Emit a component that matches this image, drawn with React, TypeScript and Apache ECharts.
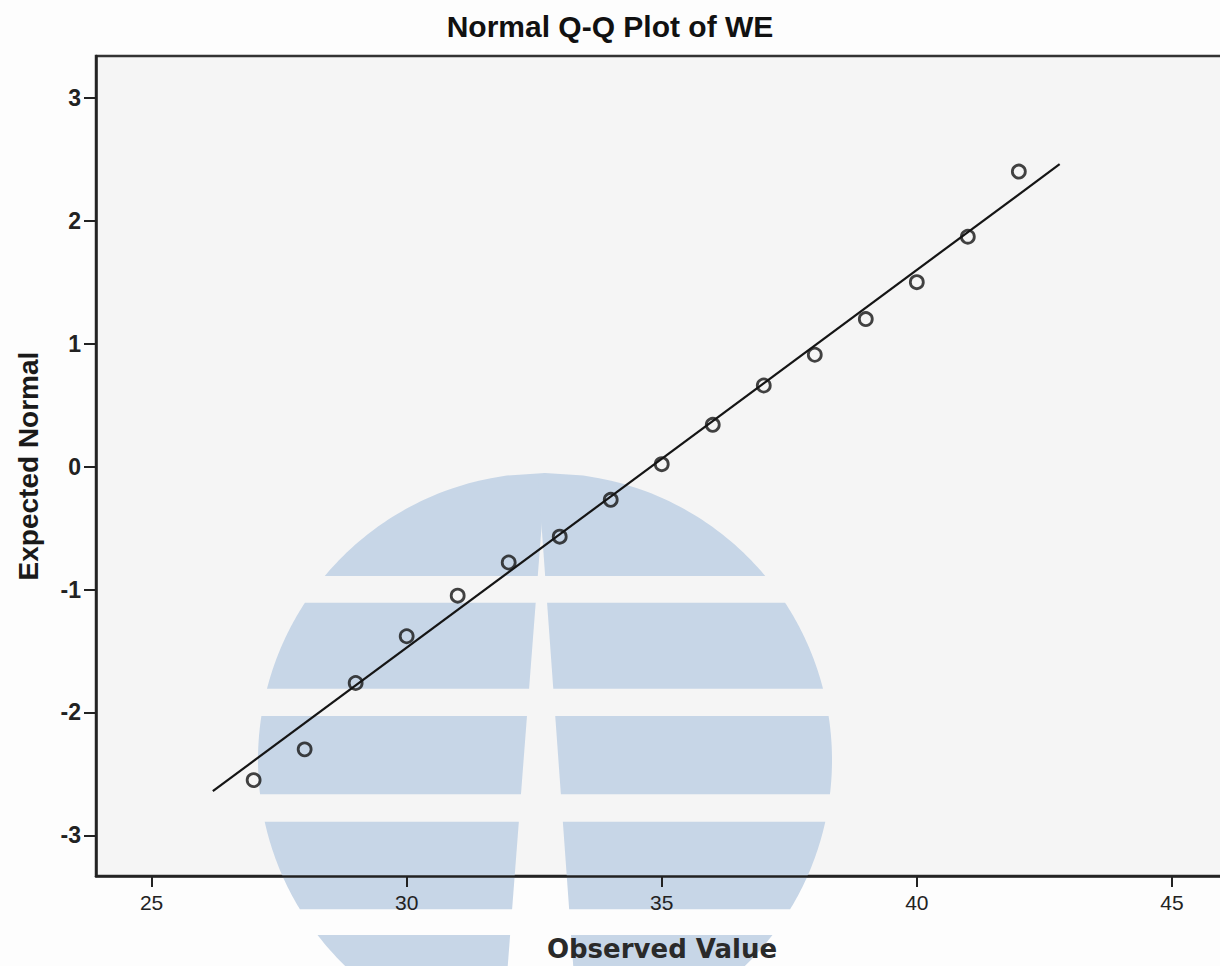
import React, { useEffect, useRef } from "react";
import * as echarts from "echarts";

// ---- data ----
const observedValues = [27, 28, 29, 30, 31, 32, 33, 34, 35, 36, 37, 38, 39, 40, 41, 42];
const expectedNormal = [-2.55, -2.3, -1.76, -1.38, -1.05, -0.78, -0.57, -0.27, 0.02, 0.34, 0.66, 0.91, 1.2, 1.5, 1.87, 2.4];
const refLineX = [26.2, 42.8];
const refLineY = [-2.64, 2.46];
const xTicks = [25, 30, 35, 40, 45];
const yTicks = [-3, -2, -1, 0, 1, 2, 3];

// ---- watermark geometry (styling) ----
const WM_CX = 545;
const WM_CY = 760;
const WM_R = 287;
const WM_BANDS = [
  [473, 576],
  [602.7, 688.7],
  [716, 794.3],
  [821.7, 909.3],
  [935, 1047],
];
const WM_COLOR = "#c7d6e7";

function hw(y: number) {
  const d = y - WM_CY;
  return Math.sqrt(Math.max(0, WM_R * WM_R - d * d));
}
function mL(y: number) {
  return 539 - 0.077 * (y - 560);
}
function mR(y: number) {
  return 544 + 0.072 * (y - 560);
}

function buildWatermark() {
  const els: any[] = [];
  const N = 40;
  for (const [y0, y1] of WM_BANDS) {
    const ys: number[] = [];
    for (let i = 0; i <= N; i++) ys.push(y0 + ((y1 - y0) * i) / N);
    const left: number[][] = [];
    ys.forEach((y) => left.push([WM_CX - hw(y), y]));
    [...ys].reverse().forEach((y) => {
      const xo = WM_CX - hw(y);
      const xi = Math.min(mL(y), WM_CX + hw(y));
      left.push([Math.max(xo, xi), y]);
    });
    const right: number[][] = [];
    ys.forEach((y) => right.push([WM_CX + hw(y), y]));
    [...ys].reverse().forEach((y) => {
      const xo = WM_CX + hw(y);
      const xi = Math.max(mR(y), WM_CX - hw(y));
      right.push([Math.min(xo, xi), y]);
    });
    els.push({ type: "polygon", z: 1, silent: true, shape: { points: left }, style: { fill: WM_COLOR } });
    els.push({ type: "polygon", z: 1, silent: true, shape: { points: right }, style: { fill: WM_COLOR } });
  }
  return els;
}

export default function App() {
  const ref = useRef<HTMLDivElement>(null);

  useEffect(() => {
    if (!ref.current) return;
    const chart = echarts.init(ref.current, null, { renderer: "svg" });
    const option: any = {
      animation: false,
      backgroundColor: "#fdfdfd",
      title: {
        text: "Normal Q-Q Plot of WE",
        left: "center",
        top: 6,
        textStyle: { fontFamily: "Liberation Sans", fontWeight: "bold", fontSize: 30, color: "#111" },
      },
      grid: {
        left: 96,
        top: 56,
        width: 1132,
        height: 820,
        outerBoundsMode: "none",
        containLabel: false,
        show: true,
        backgroundColor: "#f5f5f5",
        borderColor: "#333",
        borderWidth: 2.5,
        z: 0,
      },
      xAxis: {
        type: "value",
        min: 23.91,
        max: 46.1,
        z: 3,
        name: "Observed Value",
        nameLocation: "middle",
        nameGap: 60,
        nameTextStyle: { fontFamily: "DejaVu Sans", fontWeight: "bold", fontSize: 26, color: "#2a2a2a" },
        axisLine: { show: true, onZero: false, lineStyle: { color: "#222", width: 2.5 } },
        axisTick: { show: true, length: 11, customValues: xTicks, lineStyle: { color: "#222", width: 2 } },
        axisLabel: { customValues: xTicks, margin: 16, fontSize: 21, color: "#222", fontFamily: "Liberation Sans" },
        splitLine: { show: false },
      },
      yAxis: {
        type: "value",
        min: -3.33,
        max: 3.34,
        z: 3,
        name: "Expected Normal",
        nameLocation: "middle",
        nameGap: 54,
        nameTextStyle: { fontFamily: "Liberation Sans", fontWeight: "bold", fontSize: 28, color: "#1a1a1a" },
        axisLine: { show: true, onZero: false, lineStyle: { color: "#222", width: 2.5 } },
        axisTick: { show: true, length: 12, customValues: yTicks, lineStyle: { color: "#222", width: 2 } },
        axisLabel: {
          customValues: yTicks,
          margin: 15,
          fontSize: 23,
          fontWeight: "bold",
          color: "#222",
          fontFamily: "Liberation Sans",
        },
        splitLine: { show: false },
      },
      graphic: { elements: buildWatermark() },
      series: [
        {
          type: "line",
          data: refLineX.map((x, i) => [x, refLineY[i]]),
          symbol: "none",
          showSymbol: false,
          lineStyle: { color: "#151515", width: 2.2 },
          z: 4,
        },
        {
          type: "scatter",
          data: observedValues.map((x, i) => [x, expectedNormal[i]]),
          symbol: "circle",
          symbolSize: 13,
          itemStyle: { color: "rgba(0,0,0,0)", borderColor: "#141414", borderWidth: 2.8 },
          z: 5,
        },
      ],
    };
    chart.setOption(option);
    return () => chart.dispose();
  }, []);

  return (
    <div
      ref={ref}
      style={{ position: "absolute", left: 0, top: 0, width: 1220, height: 966 }}
    />
  );
}
